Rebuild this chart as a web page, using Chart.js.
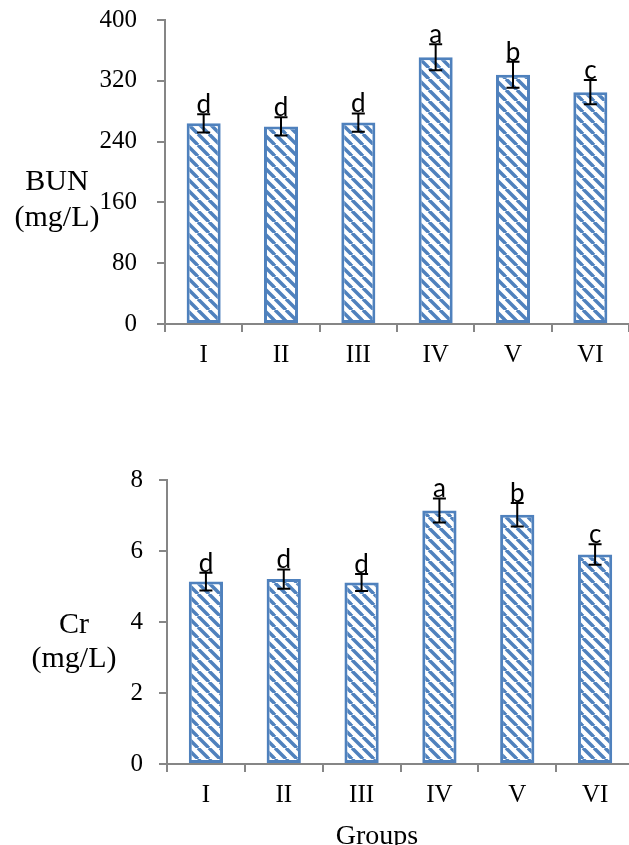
<!DOCTYPE html>
<html><head><meta charset="utf-8">
<script src="https://cdn.jsdelivr.net/npm/chart.js@4/dist/chart.umd.min.js"></script>
<style>
html,body{margin:0;padding:0;background:#fff;overflow:hidden;width:629px;height:845px;position:relative;}
canvas{position:absolute;left:0;}
#c1{top:-20px}
#c2{top:440px}
</style></head><body>
<canvas id="c1" width="629" height="420"></canvas>
<canvas id="c2" width="634" height="405"></canvas>
<script>
const groups = ['I','II','III','IV','V','VI'];
const bunMean = [264, 260, 265, 351, 328, 305];
const bunErr = [12, 12, 12, 17, 17, 16];
const bunLetters = ['d','d','d','a','b','c'];
const bunTicks = [0, 80, 160, 240, 320, 400];
const crMean = [5.14, 5.21, 5.11, 7.14, 7.02, 5.9];
const crErr = [0.25, 0.27, 0.24, 0.34, 0.33, 0.29];
const crLetters = ['d','d','d','a','b','c'];
const crTicks = [0, 2, 4, 6, 8];

const BLUE = '#4F81BD';
const AXIS = '#868686';

function hatch(){
  const s = 11;
  const c = document.createElement('canvas'); c.width = s; c.height = s;
  const x = c.getContext('2d');
  x.fillStyle = '#fff'; x.fillRect(0,0,s,s);
  x.strokeStyle = BLUE; x.lineWidth = 3.5;
  for (const o of [-s, 0, s]) { x.beginPath(); x.moveTo(o, 0); x.lineTo(o + s, s); x.stroke(); }
  return x.createPattern(c, 'repeat');
}

const annot = {
  id: 'annot',
  afterDatasetsDraw(chart, args, o) {
    const ctx = chart.ctx;
    const meta = chart.getDatasetMeta(0);
    const y = chart.scales.y;
    ctx.save();
    ctx.strokeStyle = '#000'; ctx.lineWidth = 2;
    ctx.fillStyle = '#000';
    ctx.font = '26px Lato';
    ctx.textAlign = 'center'; ctx.textBaseline = 'alphabetic';
    meta.data.forEach((bar, i) => {
      const v = o.means[i], e = o.errs[i];
      const yt = y.getPixelForValue(v + e), yb = y.getPixelForValue(v - e);
      const x = bar.x;
      ctx.beginPath();
      ctx.moveTo(x, yt); ctx.lineTo(x, yb);
      ctx.moveTo(x - 6.5, yt); ctx.lineTo(x + 6.5, yt);
      ctx.moveTo(x - 6.5, yb); ctx.lineTo(x + 6.5, yb);
      ctx.stroke();
      ctx.fillText(o.letters[i], x, yt - 1);
    });
    o.texts.forEach(t => { ctx.font = t[3] + 'px "Liberation Serif"'; ctx.fillText(t[0], t[1], t[2]); });
    ctx.restore();
  }
};

function makeChart(id, labels, means, errs, letters, ticks, max, yWidth, xHeight, padTop, tickPad, texts) {
  return new Chart(document.getElementById(id), {
    type: 'bar',
    data: {
      labels: labels,
      datasets: [{
        data: means,
        backgroundColor: hatch(),
        borderColor: BLUE,
        borderWidth: 3,
        borderSkipped: false,
        barPercentage: 0.44,
        categoryPercentage: 1
      }]
    },
    options: {
      responsive: false,
      animation: false,
      devicePixelRatio: 1,
      layout: { padding: { top: padTop, left: 0, right: 0, bottom: 0 } },
      plugins: {
        legend: { display: false },
        tooltip: { enabled: false },
        annot: { means: means, errs: errs, letters: letters, texts: texts }
      },
      scales: {
        x: {
          afterFit: s => { s.height = xHeight; },
          border: { color: AXIS, width: 2 },
          grid: { offset: true, drawOnChartArea: false, drawTicks: true, tickLength: 8, color: AXIS, lineWidth: 2 },
          ticks: { font: { family: 'Liberation Serif', size: 25 }, color: '#000', padding: 8 }
        },
        y: {
          min: 0, max: max,
          afterBuildTicks: s => { s.ticks = ticks.map(v => ({ value: v })); },
          afterFit: s => { s.width = yWidth; },
          border: { color: AXIS, width: 2 },
          grid: { drawOnChartArea: false, drawTicks: true, tickLength: 8, color: AXIS, lineWidth: 2 },
          ticks: { font: { family: 'Liberation Serif', size: 25 }, color: '#000', padding: tickPad }
        }
      }
    },
    plugins: [annot]
  });
}

makeChart('c1', groups, bunMean, bunErr, bunLetters, bunTicks, 400, 165, 76, 40, 20,
  [['BUN', 57, 210, 30], ['(mg/L)', 57, 246, 30]]);
makeChart('c2', groups, crMean, crErr, crLetters, crTicks, 8, 167, 81, 40, 16,
  [['Cr', 74, 193, 30], ['(mg/L)', 74, 227, 30], ['Groups', 377, 404, 28]]);
</script>
</body></html>
